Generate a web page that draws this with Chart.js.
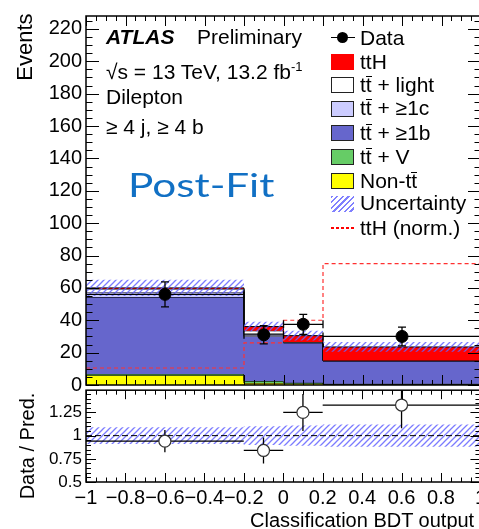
<!DOCTYPE html>
<html>
<head>
<meta charset="utf-8">
<script src="https://cdn.jsdelivr.net/npm/chart.js@4.4.0/dist/chart.umd.min.js"></script>
<style>
  html, body { margin: 0; padding: 0; background: #fff; overflow: hidden; }
  #wrap { position: relative; width: 479px; height: 529px; overflow: hidden;
          font-family: "Liberation Sans", Arial, sans-serif; color: #000; }
  #wrap canvas { position: absolute; left: 0; }
  .txt { position: absolute; white-space: nowrap; font-size: 21px; line-height: 24px; }
  .leg { position: absolute; left: 360px; white-space: nowrap; font-size: 21px; line-height: 24px; }
  .sw { position: absolute; left: 331px; width: 21px; height: 14px; border: 1px solid #222; }
  .ob { display: inline-block; border-top: 1.5px solid #000; line-height: 15px; }
  .rot { position: absolute; width: 140px; height: 24px; line-height: 24px; text-align: center;
         font-size: 20px; transform: rotate(-90deg); white-space: nowrap; }
</style>
</head>
<body>
<div id="wrap">
  <canvas id="mainChart" width="490" height="401" style="top:0;"></canvas>
  <canvas id="ratioChart" width="490" height="153" style="top:376px;"></canvas>

  <div class="rot" style="left:-45px; top:35px; font-size:22px;">Events</div>
  <div class="rot" style="left:-43px; top:434px;">Data / Pred.</div>
  <div class="txt" style="left:250px; top:508px; font-size:20px;">Classification BDT output</div>

  <div class="txt" style="left:106px; top:25px;"><b><i>ATLAS</i></b></div>
  <div class="txt" style="left:197px; top:25px;">Preliminary</div>
  <div class="txt" style="left:106px; top:55px;">&radic;s = 13 TeV, 13.2 fb<sup style="font-size:13px;">-1</sup></div>
  <div class="txt" style="left:106px; top:85px;">Dilepton</div>
  <div class="txt" style="left:106px; top:115px;">&ge; 4 j, &ge; 4 b</div>
  <div class="txt" style="left:128px; top:164px; font-family:Lato, 'Open Sans', sans-serif; font-size:33px; line-height:40px; color:#1170c4; transform-origin:left center; transform:scaleX(1.28);">Post-Fit</div>

  <!-- 범례 -->
  <div style="position:absolute; left:331px; top:37px; width:24px; height:1px; background:#000;"></div>
  <div style="position:absolute; left:337px; top:32px; width:11px; height:11px; border-radius:50%; background:#000;"></div>
  <div class="leg" style="top:26px;">Data</div>
  <div class="sw" style="top:54px; background:#ff0000; border-color:#ff0000;"></div>
  <div class="leg" style="top:50px;">ttH</div>
  <div class="sw" style="top:77px; background:#ffffff;"></div>
  <div class="leg" style="top:73px;">t<span class="ob">t</span> + light</div>
  <div class="sw" style="top:101px; background:#ccccff;"></div>
  <div class="leg" style="top:96px;">t<span class="ob">t</span> + &ge;1c</div>
  <div class="sw" style="top:125px; background:#6666cc;"></div>
  <div class="leg" style="top:121px;">t<span class="ob">t</span> + &ge;1b</div>
  <div class="sw" style="top:149px; background:#66cc66;"></div>
  <div class="leg" style="top:145px;">t<span class="ob">t</span> + V</div>
  <div class="sw" style="top:173px; background:#ffff00;"></div>
  <div class="leg" style="top:169px;">Non-t<span class="ob">t</span></div>
  <div class="sw" style="top:196px; border:none; width:23px; height:16px;
       background:repeating-linear-gradient(135deg, #8080ff 0 1.5px, #fff 1.5px 4px);"></div>
  <div class="leg" style="top:191px;">Uncertainty</div>
  <div style="position:absolute; left:331px; top:227px; width:23px; height:2px;
       background:repeating-linear-gradient(90deg, #ff0000 0 3px, #ffffff 3px 5px);"></div>
  <div class="leg" style="top:216px;">ttH (norm.)</div>
</div>

<script>
// ── 구간 경계 ──
var binEdges = [-1, -0.2, 0, 0.2, 1];

// ── 스택 성분 (아래에서 위로) ──
var nonTT   = [6.0, 1.2, 1.0, 0.4];
var ttV     = [0.8, 1.2, 0.4, 0.3];
var ttB     = [47.5, 27.6, 24.6, 14.1];
var ttC     = [3.2, 1.8, 0.3, 0.2];
var ttLight = [1.8, 1.7, 0.2, 0.2];
var ttH     = [0.7, 2.6, 4.0, 8.3];
var stackUnc = [5.0, 3.0, 3.0, 3.0];

// ── 데이터 ──
var dataVal = [56, 31, 37.5, 30];
var dataErr = [7.7, 5.6, 6.2, 5.8];
var ttHNorm = [10.5, 26, 40, 75];

// ── 비율 패널 ──
var ratioVal = [0.94, 0.84, 1.25, 1.33];
var ratioErr = [0.12, 0.14, 0.2, 0.25];
var ratioUnc = [0.09, 0.1, 0.11, 0.12];

// ── 눈금 ──
var mainYTicks = [0, 20, 40, 60, 80, 100, 120, 140, 160, 180, 200, 220];
var ratioYTicks = [0.5, 0.75, 1, 1.25];
var xTicks = [-1, -0.8, -0.6, -0.4, -0.2, 0, 0.2, 0.4, 0.6, 0.8, 1];

var stackColors = ['#ffff00', '#66cc66', '#6666cc', '#ccccff', '#ffffff', '#ff0000'];
var FONT = '"Liberation Sans", Arial, sans-serif';

function stepPoints(vals) {
  var pts = vals.map(function(v, i) { return { x: binEdges[i], y: v }; });
  pts.push({ x: binEdges[binEdges.length - 1], y: vals[vals.length - 1] });
  return pts;
}

function centers() {
  return binEdges.slice(0, -1).map(function(e, i) { return (e + binEdges[i + 1]) / 2; });
}

function fmt(v) {
  return String(parseFloat(Number(v).toFixed(2))).replace('-', '\u2212');
}

function hatchPattern() {
  var c = document.createElement('canvas');
  c.width = 6; c.height = 6;
  var g = c.getContext('2d');
  g.strokeStyle = 'rgba(100,100,255,0.85)';
  g.lineWidth = 1.3;
  g.beginPath();
  g.moveTo(0, 6); g.lineTo(6, 0);
  g.moveTo(-1, 1); g.lineTo(1, -1);
  g.moveTo(5, 7); g.lineTo(7, 5);
  g.stroke();
  return g.createPattern(c, 'repeat');
}

// ── 테두리 + 안쪽 눈금 ──
function frameTicks(cfg) {
  return {
    id: 'frameTicks',
    afterDraw: function(chart) {
      var ctx = chart.ctx, a = chart.chartArea;
      var xs = chart.scales.x, ys = chart.scales.y;
      ctx.save();
      ctx.strokeStyle = '#000';
      ctx.lineWidth = 1;
      ctx.beginPath();
      var n = Math.round((1 - -1) / 0.05);
      for (var i = 0; i <= n; i++) {
        var v = -1 + i * 0.05;
        var major = Math.abs(v / 0.2 - Math.round(v / 0.2)) < 1e-6;
        var px = Math.round(xs.getPixelForValue(v)) + 0.5;
        var L = major ? cfg.xMajor : cfg.xMajor / 2;
        ctx.moveTo(px, a.bottom); ctx.lineTo(px, a.bottom - L);
        ctx.moveTo(px, a.top); ctx.lineTo(px, a.top + L);
      }
      var m = Math.round((cfg.yMax - cfg.yMin) / cfg.yMinor);
      for (var j = 0; j <= m; j++) {
        var yv = cfg.yMin + j * cfg.yMinor;
        if (yv > ys.max) break;
        var isMaj = Math.abs(yv / cfg.yStep - Math.round(yv / cfg.yStep)) < 1e-6;
        var py = Math.round(ys.getPixelForValue(yv)) + 0.5;
        var Ly = isMaj ? cfg.yMajor : cfg.yMajor / 2;
        ctx.moveTo(a.left, py); ctx.lineTo(a.left + Ly, py);
        ctx.moveTo(a.right, py); ctx.lineTo(a.right - Ly, py);
      }
      ctx.stroke();
      ctx.lineWidth = 1.5;
      ctx.strokeRect(a.left, a.top, a.right - a.left, a.bottom - a.top);
      ctx.restore();
    }
  };
}

// ── 오차 막대 (점 데이터셋 직전에 그림) ──
function errorBars(dsIndex, vals, errs, caps) {
  return {
    id: 'errorBars',
    beforeDatasetDraw: function(chart, args) {
      if (args.index !== dsIndex) return;
      var ctx = chart.ctx, a = chart.chartArea;
      var xs = chart.scales.x, ys = chart.scales.y;
      ctx.save();
      ctx.beginPath();
      ctx.rect(a.left, a.top, a.right - a.left, a.bottom - a.top);
      ctx.clip();
      ctx.strokeStyle = '#000';
      ctx.lineWidth = 1.3;
      ctx.beginPath();
      vals.forEach(function(v, i) {
        var x0 = xs.getPixelForValue(binEdges[i]);
        var x1 = xs.getPixelForValue(binEdges[i + 1]);
        var xc = xs.getPixelForValue((binEdges[i] + binEdges[i + 1]) / 2);
        var yc = ys.getPixelForValue(v);
        var yt = ys.getPixelForValue(v + errs[i]);
        var yb = ys.getPixelForValue(v - errs[i]);
        ctx.moveTo(x0, yc); ctx.lineTo(x1, yc);
        ctx.moveTo(xc, yt); ctx.lineTo(xc, yb);
        if (caps) {
          ctx.moveTo(xc - 4, yt); ctx.lineTo(xc + 4, yt);
          ctx.moveTo(xc - 4, yb); ctx.lineTo(xc + 4, yb);
          ctx.moveTo(x0, yc - 4); ctx.lineTo(x0, yc + 4);
          ctx.moveTo(x1, yc - 4); ctx.lineTo(x1, yc + 4);
        }
      });
      ctx.stroke();
      ctx.restore();
    }
  };
}

var hatch = hatchPattern();

// ── 메인 패널 ──
var cum = [];
var running = [0, 0, 0, 0];
[nonTT, ttV, ttB, ttC, ttLight, ttH].forEach(function(layer) {
  running = running.map(function(r, i) { return r + layer[i]; });
  cum.push(running.slice());
});
var total = cum[cum.length - 1];

var mainSets = cum.map(function(vals, k) {
  return {
    type: 'line',
    data: stepPoints(vals),
    stepped: 'before',
    borderColor: '#000',
    borderWidth: 1,
    backgroundColor: stackColors[k],
    fill: k === 0 ? 'origin' : '-1',
    pointRadius: 0,
    order: 20 - k
  };
});
mainSets.push({
  type: 'line',
  data: stepPoints(total.map(function(t, i) { return t - stackUnc[i]; })),
  stepped: 'before', borderWidth: 0, pointRadius: 0, fill: false, order: 5
});
mainSets.push({
  type: 'line',
  data: stepPoints(total.map(function(t, i) { return t + stackUnc[i]; })),
  stepped: 'before', borderWidth: 0, pointRadius: 0, backgroundColor: hatch, fill: '-1', order: 4
});
mainSets.push({
  type: 'line',
  data: stepPoints(ttHNorm),
  stepped: 'before', borderColor: '#ff3030', borderWidth: 1.2, borderDash: [4, 3],
  pointRadius: 0, fill: false, order: 3
});
var cx = centers();
mainSets.push({
  type: 'scatter',
  data: dataVal.map(function(v, i) { return { x: cx[i], y: v }; }),
  pointRadius: 6, pointBackgroundColor: '#000', pointBorderColor: '#000', order: 1
});
var dataIdx = mainSets.length - 1;

new Chart(document.getElementById('mainChart'), {
  type: 'line',
  data: { datasets: mainSets },
  options: {
    responsive: false,
    animation: false,
    layout: { padding: { top: 15, right: 9, bottom: 14, left: 0 } },
    plugins: { legend: { display: false }, tooltip: { enabled: false } },
    scales: {
      x: { type: 'linear', min: -1, max: 1, display: false },
      y: {
        min: 0, max: 228,
        grid: { display: false, drawTicks: false },
        border: { display: false },
        afterFit: function(s) { s.width = 86; },
        afterBuildTicks: function(s) { s.ticks = mainYTicks.map(function(v) { return { value: v }; }); },
        ticks: { font: { family: FONT, size: 20 }, color: '#000', padding: 4, callback: fmt }
      }
    }
  },
  plugins: [
    errorBars(dataIdx, dataVal, dataErr, true),
    frameTicks({ xMajor: 10, yMin: 0, yMax: 228, yStep: 20, yMinor: 5, yMajor: 13 })
  ]
});

// ── 비율 패널 ──
var ratioSets = [
  {
    type: 'line',
    data: stepPoints(ratioUnc.map(function(u) { return 1 - u; })),
    stepped: 'before', borderWidth: 0, pointRadius: 0, fill: false, order: 5
  },
  {
    type: 'line',
    data: stepPoints(ratioUnc.map(function(u) { return 1 + u; })),
    stepped: 'before', borderWidth: 0, pointRadius: 0, backgroundColor: hatch, fill: '-1', order: 4
  },
  {
    type: 'line',
    data: [{ x: -1, y: 1 }, { x: 1, y: 1 }],
    borderColor: '#000', borderWidth: 1, borderDash: [6, 3], pointRadius: 0, fill: false, order: 3
  },
  {
    type: 'scatter',
    data: ratioVal.map(function(v, i) { return { x: cx[i], y: v }; }),
    pointRadius: 6, pointBackgroundColor: '#fff', pointBorderColor: '#333', pointBorderWidth: 1.2, order: 1
  }
];

new Chart(document.getElementById('ratioChart'), {
  type: 'line',
  data: { datasets: ratioSets },
  options: {
    responsive: false,
    animation: false,
    layout: { padding: { top: 14, right: 9, bottom: 0, left: 0 } },
    plugins: { legend: { display: false }, tooltip: { enabled: false } },
    scales: {
      x: {
        type: 'linear', min: -1, max: 1,
        grid: { display: false, drawTicks: false },
        border: { display: false },
        afterFit: function(s) { s.height = 47; },
        afterBuildTicks: function(s) { s.ticks = xTicks.map(function(v) { return { value: v }; }); },
        ticks: {
          autoSkip: false, maxRotation: 0, padding: 4,
          font: { family: FONT, size: 20 }, color: '#000', callback: fmt
        }
      },
      y: {
        min: 0.5, max: 1.49,
        grid: { display: false, drawTicks: false },
        border: { display: false },
        afterFit: function(s) { s.width = 86; },
        afterBuildTicks: function(s) { s.ticks = ratioYTicks.map(function(v) { return { value: v }; }); },
        ticks: { font: { family: FONT, size: 17 }, color: '#000', padding: 4, callback: fmt }
      }
    }
  },
  plugins: [
    errorBars(3, ratioVal, ratioErr, false),
    frameTicks({ xMajor: 9, yMin: 0.5, yMax: 1.49, yStep: 0.25, yMinor: 0.05, yMajor: 10 })
  ]
});
</script>
</body>
</html>
